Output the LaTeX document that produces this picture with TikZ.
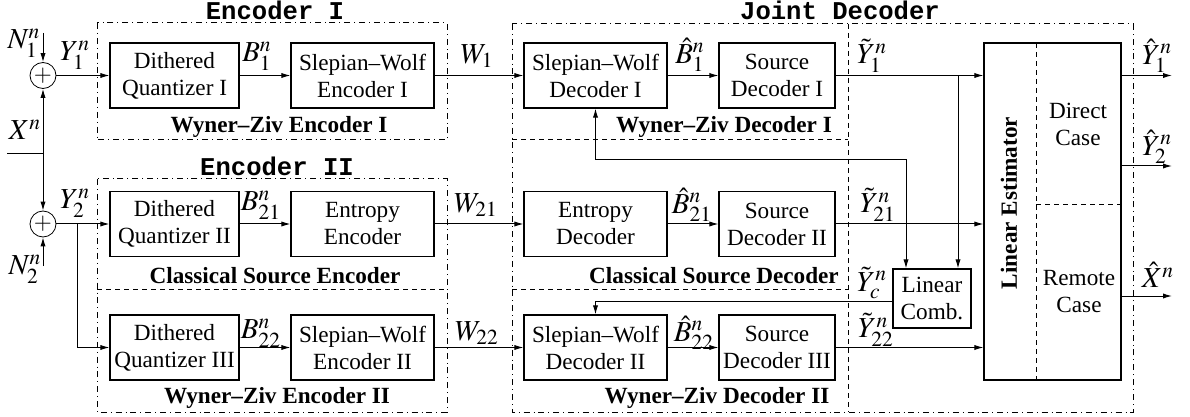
\documentclass[tikz,border=0pt]{standalone}
\usepackage{mathptmx}
\usepackage{fontspec}
\setmainfont{Liberation Serif}
\setmonofont{Liberation Mono}
\usetikzlibrary{positioning,arrows.meta,calc}

\tikzset{
  blk/.style={draw, line width=0.6pt, align=center, minimum height=32.5pt, inner sep=1pt},
  arr/.style={-{Latex[length=4.5pt,width=2.6pt]}, line width=0.5pt},
  grp/.style={dashdotted, line width=0.5pt},
  sep/.style={dash pattern=on 2.5pt off 2pt, line width=0.5pt},
  ttl/.style={font=\fontsize{12.8}{14}\selectfont\ttfamily\bfseries},
  boldlbl/.style={font=\fontsize{11.6}{13.5}\selectfont\bfseries},
  sig/.style={inner sep=0pt, font=\fontsize{14.5}{16}\selectfont}
}

\begin{document}
\begin{tikzpicture}[x=0.5pt,y=-0.5pt,font=\fontsize{11.6}{13.5}\selectfont]
\useasboundingbox (0,0) rectangle (1190,417);

\draw[grp] (97,23) rectangle (447,140);
\draw[grp] (97,179) rectangle (447,412);
\draw[grp] (512,24) rectangle (1133,412);
\draw[sep] (97,289) -- (447,289);
\draw[sep] (512,140) -- (848,140);
\draw[sep] (512,289) -- (848,289);
\draw[sep] (848,24) -- (848,412);

\node[ttl] (encI) at (275,10) {Encoder I};
\node[ttl] (encII) at (277,166) {Encoder II};
\node[ttl] (jdec) at (840,10) {Joint Decoder};

\node[draw, circle, minimum size=13pt, inner sep=0pt] (add1) at (43,75.5) {$+$};
\node[draw, circle, minimum size=13pt, inner sep=0pt] (add2) at (43,224) {$+$};

\node[blk, minimum width=64.5pt] (dq1) at (174.5,75.5) {Dithered\\Quantizer I};
\node[blk, minimum width=71.5pt] (swe1) at (362.5,75.5) {Slepian--Wolf\\Encoder I};
\node[blk, minimum width=71.5pt] (swd1) at (595.5,75.5) {Slepian--Wolf\\Decoder I};
\node[blk, minimum width=58pt] (sd1) at (777,75.5) {Source\\Decoder I};

\node[blk, minimum width=64.5pt] (dq2) at (174.5,224) {Dithered\\Quantizer II};
\node[blk, minimum width=71.5pt] (ee) at (362.5,224) {Entropy\\Encoder};
\node[blk, minimum width=71.5pt] (ed) at (595.5,224) {Entropy\\Decoder};
\node[blk, minimum width=58pt] (sd2) at (777,224) {Source\\Decoder II};

\node[blk, minimum width=64.5pt] (dq3) at (174.5,347.5) {Dithered\\Quantizer III};
\node[blk, minimum width=71.5pt] (swe2) at (362.5,347.5) {Slepian--Wolf\\Encoder II};
\node[blk, minimum width=71.5pt] (swd2) at (595.5,347.5) {Slepian--Wolf\\Decoder II};
\node[blk, minimum width=58pt] (sd3) at (777,347.5) {Source\\Decoder III};

\node[blk, minimum width=39pt, minimum height=29.5pt] (lc) at (932,298.5) {Linear\\Comb.};
\node[blk, minimum width=68.5pt, minimum height=168.5pt] (le) at (1052.5,211.5) {};
\draw[sep] (1036,43) -- (1036,380);
\draw[sep] (1036,205) -- (1121,205);
\node[boldlbl, rotate=90] (lename) at (1009,203) {Linear Estimator};
\node[align=center] (direct) at (1078,124) {Direct\\Case};
\node[align=center] (remote) at (1079,292) {Remote\\Case};

\node[boldlbl] (wzeI) at (279,127) {Wyner--Ziv Encoder I};
\node[boldlbl] (cse) at (275,276) {Classical Source Encoder};
\node[boldlbl] (wzeII) at (277,398) {Wyner--Ziv Encoder II};
\node[boldlbl] (wzdI) at (724,127) {Wyner--Ziv Decoder I};
\node[boldlbl] (csd) at (714,276) {Classical Source Decoder};
\node[boldlbl] (wzdII) at (717,398) {Wyner--Ziv Decoder II};

\node[sig] (ln1) at (24,43) {$N_1^n$};
\node[sig] (lx) at (25,130) {$X^n$};
\node[sig] (ln2) at (25,269) {$N_2^n$};
\node[sig] (ly1) at (75,55) {$Y_1^n$};
\node[sig] (ly2) at (75,203) {$Y_2^n$};
\node[sig] (lb1) at (257,56) {$B_1^n$};
\node[sig] (lb21) at (261,205) {$B_{21}^n$};
\node[sig] (lb22) at (261,333) {$B_{22}^n$};
\node[sig] (lw1) at (477,56) {$W_1$};
\node[sig] (lw21) at (476,205) {$W_{21}$};
\node[sig] (lw22) at (477,333) {$W_{22}$};
\node[sig] (lhb1) at (690,55) {$\hat{B}_1^n$};
\node[sig] (lhb21) at (692,205) {$\hat{B}_{21}^n$};
\node[sig] (lhb22) at (694,333) {$\hat{B}_{22}^n$};
\node[sig] (lty1) at (872,56) {$\tilde{Y}_1^n$};
\node[sig] (lty21) at (878,205) {$\tilde{Y}_{21}^n$};
\node[sig] (ltyc) at (872,283) {$\tilde{Y}_c^n$};
\node[sig] (lty22) at (876,330) {$\tilde{Y}_{22}^n$};
\node[sig] (lhy1) at (1157,56) {$\hat{Y}_1^n$};
\node[sig] (lhy2) at (1157,147) {$\hat{Y}_2^n$};
\node[sig] (lhx) at (1158,275) {$\hat{X}^n$};

\coordinate (n1) at (43,33);
\coordinate (n2) at (43,266);
\coordinate (xin) at (7,153);
\coordinate (xj) at (43,153);
\coordinate (br) at (77,224);
\coordinate (j1) at (958,75.5);
\coordinate (j21) at (906,224);
\coordinate (fb) at (595.5,160);
\coordinate (o1) at (1172,75.5);
\coordinate (o2) at (1172,166);
\coordinate (o3) at (1172,296);

\draw[arr] (n1) -- (add1);
\draw[arr] (n2) -- (add2);
\draw (xin) -- (xj);
\draw[arr] (xj) -- (add1);
\draw[arr] (xj) -- (add2);

\draw[arr] (add1) -- (dq1);
\draw[arr] (dq1) -- (swe1);
\draw[arr] (swe1) -- (swd1);
\draw[arr] (swd1) -- (sd1);
\draw[arr] (sd1.east) -- (sd1.east -| le.west);

\draw[arr] (add2) -- (dq2);
\draw[arr] (dq2) -- (ee);
\draw[arr] (ee) -- (ed);
\draw[arr] (ed) -- (sd2);
\draw[arr] (sd2.east) -- (sd2.east -| le.west);

\draw[arr] (br) |- (dq3);
\draw[arr] (dq3) -- (swe2);
\draw[arr] (swe2) -- (swd2);
\draw[arr] (swd2) -- (sd3);
\draw[arr] (sd3.east) -- (sd3.east -| le.west);

\draw[arr] (j1) -- (j1 |- lc.north);
\draw[arr] (j21) -- (j21 |- lc.north);
\draw[arr] (j21) |- (fb) -- (swd1.south);
\draw[arr] ([yshift=-1.5pt]lc.west) -| (swd2.north);

\draw[arr] (le.east |- o1) -- (o1);
\draw[arr] (le.east |- o2) -- (o2);
\draw[arr] (le.east |- o3) -- (o3);
\end{tikzpicture}
\end{document}
